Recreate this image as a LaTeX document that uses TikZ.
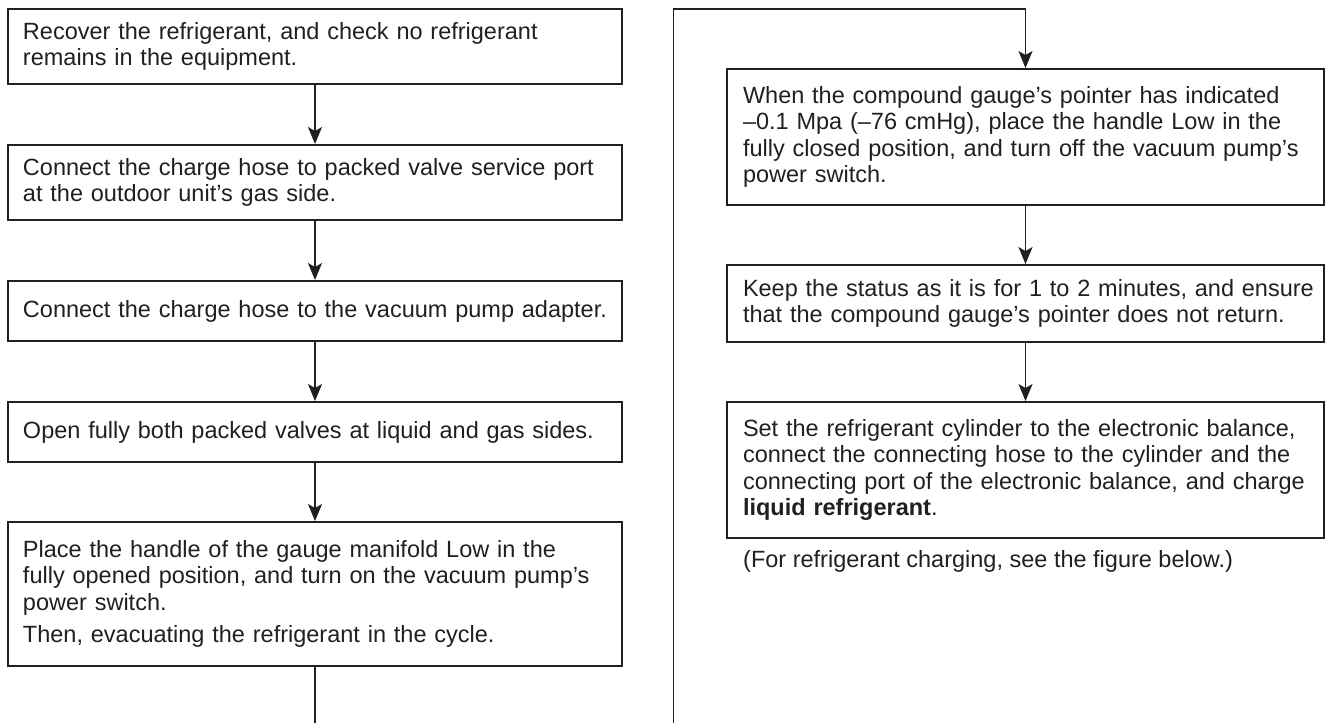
\documentclass[tikz,border=0pt]{standalone}
\usepackage{fontspec}
\setmainfont{Liberation Sans}
\usetikzlibrary{arrows.meta}
\definecolor{ink}{HTML}{231F20}
\begin{document}
\begin{tikzpicture}[x=1pt,y=-1pt,
  txt/.style={font=\fontsize{23.5}{26.5}\selectfont, text=ink},
  lbox/.style={txt, draw=ink, line width=1.9pt, align=left, inner ysep=0pt, inner xsep=15pt,
    minimum width=614pt, text width=584pt},
  rbox/.style={txt, draw=ink, line width=1.9pt, align=left, inner ysep=0pt, inner xsep=16pt,
    minimum width=597pt, text width=565pt},
  conn/.style={draw=ink, line width=1.6pt, -{Stealth[length=17pt,width=14pt,inset=4pt]}},
]
\clip (0,0) rectangle (1326,723);
\fill[white] (0,0) rectangle (1326,723);

% left column
\node[lbox, minimum height=75pt] (b1) at (315,46.5)
  {Recover the refrigerant, and check no refrigerant\\remains in the equipment.};
\node[lbox, minimum height=75pt] (b2) at (315,182.5)
  {Connect the charge hose to packed valve service port\\at the outdoor unit’s gas side.};
\node[lbox, minimum height=60pt] (b3) at (315,311)
  {\mbox{Connect the charge hose to the vacuum pump adapter.}};
\node[lbox, minimum height=60pt] (b4) at (315,432)
  {\mbox{Open fully both packed valves at liquid and gas sides.}};
\node[lbox, minimum height=144pt] (b5) at (315,594)
  {Place the handle of the gauge manifold Low in the\\\mbox{fully opened position, and turn on the vacuum pump’s}\\power switch.\\[6pt]Then, evacuating the refrigerant in the cycle.};

% right column
\node[rbox, minimum height=136pt] (b6) at (1025.5,137)
  {When the compound gauge’s pointer has indicated\\–0.1 Mpa (–76 cmHg), place the handle Low in the\\\mbox{fully closed position, and turn off the vacuum pump’s}\\power switch.};
\node[rbox, minimum height=77pt] (b7) at (1025.5,303.5)
  {\mbox{Keep the status as it is for 1 to 2 minutes, and ensure}\\\mbox{that the compound gauge’s pointer does not return.}};
\node[rbox, minimum height=136pt] (b8) at (1025.5,470)
  {\mbox{Set the refrigerant cylinder to the electronic balance,}\\\mbox{connect the connecting hose to the cylinder and the}\\\mbox{connecting port of the electronic balance, and charge}\\\textbf{liquid refrigerant}.};
\node[txt, anchor=base west, inner sep=0pt] (note) at (743,567)
  {(For refrigerant charging, see the figure below.)};

% connectors
\draw[conn] (b1.south) -- (b2.north);
\draw[conn] (b2.south) -- (b3.north);
\draw[conn] (b3.south) -- (b4.north);
\draw[conn] (b4.south) -- (b5.north);
\draw[conn] (b6.south) -- (b7.north);
\draw[conn] (b7.south) -- (b8.north);

\coordinate (lpA) at (315,740);
\coordinate (lpB) at (673.5,740);
\coordinate (lpC) at (673.5,9);
\coordinate (lpD) at (1025.5,9);
\draw[conn] (b5.south) -- (lpA) -- (lpB) -- (lpC) -- (lpD) -- (b6.north);
\end{tikzpicture}
\end{document}
